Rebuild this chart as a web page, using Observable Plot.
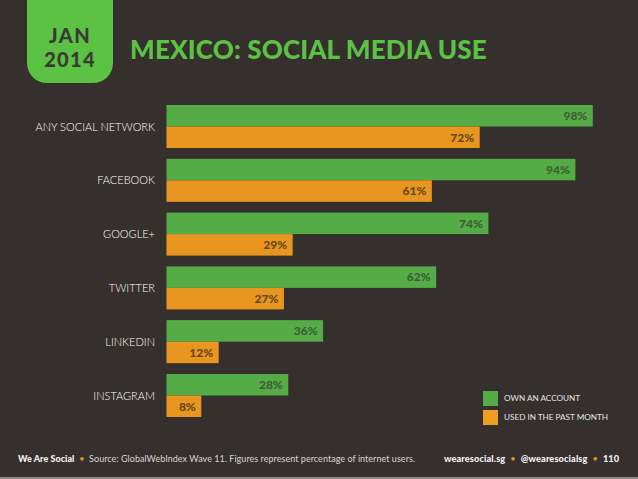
<!DOCTYPE html>
<html><head><meta charset="utf-8">
<script src="https://cdn.jsdelivr.net/npm/d3@7"></script>
<script src="https://cdn.jsdelivr.net/npm/@observablehq/plot@0.6"></script>
<style>
html,body{margin:0;padding:0;background:#352f2e;}
#page{position:relative;width:638px;height:479px;overflow:hidden;background:#352f2e;font-family:Lato,sans-serif;}
#page>div{position:absolute;white-space:nowrap;}
#chart{left:0;top:0;}
#chart svg{display:block;background:transparent;}
#badge{left:27px;top:0;width:86px;height:83px;background:#5cc243;border-radius:0 0 20px 20px;}
.date{left:27px;width:86px;text-align:center;color:#3a3a33;font-weight:900;font-size:20px;line-height:24px;letter-spacing:1.3px;}
#title{left:130px;top:34px;font-size:26px;line-height:30px;font-weight:900;color:#5cc243;letter-spacing:.15px;}
.sw{left:483px;width:14.5px;height:14.5px;}
.lg{left:504px;font-size:8.2px;line-height:12px;color:#e6e4e2;letter-spacing:-.02px;}
.ft{top:453px;font-size:9px;line-height:12px;color:#d9d6d3;}
.ft b{color:#f4f2f0;font-weight:900;}
.ft i{color:#e8961f;font-style:normal;}
#rule{left:0;top:477px;width:638px;height:2px;background:#8f8c8a;}
</style></head>
<body><div id="page">
<div id="chart"></div>
<div id="badge"></div>
<div class="date" style="top:23px">JAN</div>
<div class="date" style="top:47px">2014</div>
<div id="title">MEXICO: SOCIAL MEDIA USE</div>
<div class="sw" style="top:391px;background:#55ab45"></div>
<div class="sw" style="top:410px;background:#ee9e20"></div>
<div class="lg" style="top:392px">OWN AN ACCOUNT</div>
<div class="lg" style="top:411px">USED IN THE PAST MONTH</div>
<div class="ft" style="left:18px;letter-spacing:.04px"><b>We Are Social</b> &nbsp;<i>•</i>&nbsp; Source: GlobalWebIndex Wave 11. Figures represent percentage of internet users.</div>
<div class="ft" style="left:444px;letter-spacing:.12px;font-size:9.2px"><b>wearesocial.sg</b> &nbsp;<i>•</i>&nbsp; <b>@wearesocialsg</b> &nbsp;<i>•</i>&nbsp; <b>110</b></div>
<div id="rule"></div>
</div>
<script>
const categories = ["ANY SOCIAL NETWORK","FACEBOOK","GOOGLE+","TWITTER","LINKEDIN","INSTAGRAM"];
const seriesNames = ["OWN AN ACCOUNT","USED IN THE PAST MONTH"];
const ownAccount = [98,94,74,62,36,28];
const usedPastMonth = [72,61,29,27,12,8];
const seriesColors = ["#55ab45","#e8961f"];
const labelColors = ["#3c5f36","#66481c"];

const rows = categories.flatMap((c,i)=>[
  {category:c, series:seriesNames[0], value:ownAccount[i]},
  {category:c, series:seriesNames[1], value:usedPastMonth[i]}
]);

const plot = Plot.plot({
  width:638, height:479,
  marginLeft:166.5, marginRight:36.5, marginTop:105, marginBottom:62,
  style:{background:"transparent", fontFamily:"Lato, sans-serif"},
  x:{domain:[0,100], axis:null},
  y:{domain:seriesNames, padding:0, round:false, axis:null},
  fy:{domain:categories, padding:0.2, round:false, axis:null},
  color:{domain:seriesNames, range:seriesColors},
  marks:[
    Plot.barX(rows,{x:"value", y:"series", fy:"category", fill:"series"}),
    Plot.text(rows,{x:"value", y:"series", fy:"category", text:d=>d.value+"%",
      textAnchor:"end", dx:-6, fontSize:12, fontWeight:900,
      fill:d=>labelColors[seriesNames.indexOf(d.series)], style:{letterSpacing:"0.8px"}}),
    Plot.axisFy({anchor:"left", tickSize:0, tickPadding:12, label:null, fontSize:11, fontWeight:300, fill:"#ffffff"})
  ]
});
document.getElementById("chart").appendChild(plot);
</script>
</body></html>
